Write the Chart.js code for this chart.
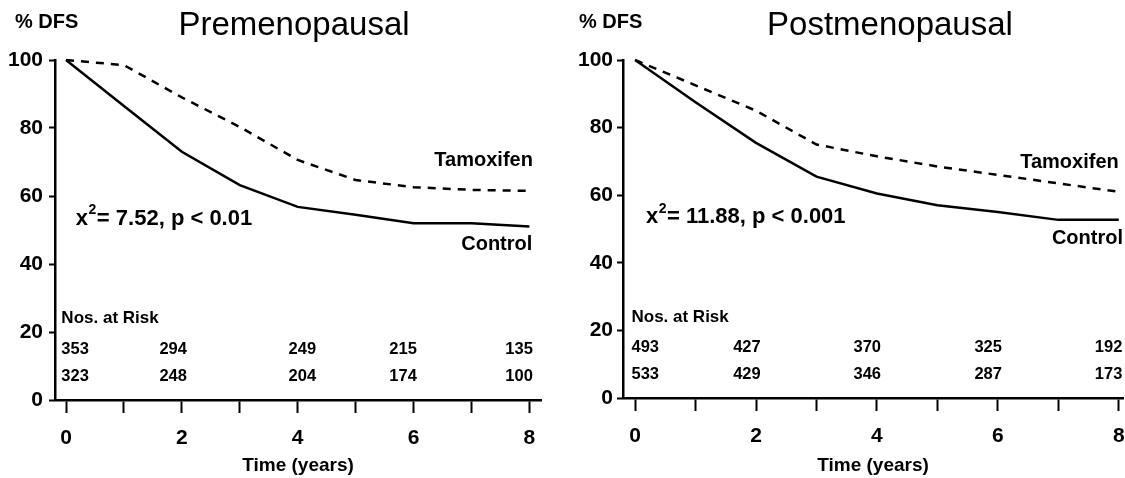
<!DOCTYPE html>
<html>
<head>
<meta charset="utf-8">
<script src="https://cdn.jsdelivr.net/npm/chart.js@4.4.1/dist/chart.umd.min.js"></script>
<style>
  html, body { margin: 0; padding: 0; background: #fff; overflow: hidden; width: 1125px; height: 478px; }
  .panel { position: absolute; top: 0; height: 478px; }
  #pre { left: 0; width: 562px; }
  #post { left: 562px; width: 582px; }
</style>
</head>
<body>
<div class="panel" id="pre"><canvas id="preChart"></canvas></div>
<div class="panel" id="post"><canvas id="postChart"></canvas></div>
<script>
// disease-free survival (%) by year of follow-up
const years = [0, 1, 2, 3, 4, 5, 6, 7, 8];
const preTamoxifen = [100, 98.5, 89, 80.3, 70.6, 64.7, 62.6, 61.8, 61.5];
const preControl = [100, 86.5, 73, 63.2, 56.8, 54.5, 52, 52, 51];
const postTamoxifen = [100, 92.5, 85, 75, 71.5, 68.5, 66, 63.5, 61];
const postControl = [100, 87.5, 75.5, 65.5, 60.5, 57, 55, 52.7, 52.7];

// numbers at risk, years 0-8
const riskYears = [0, 2, 4, 6, 8];
const preRiskTamoxifen = [353, 294, 249, 215, 135];
const preRiskControl = [323, 248, 204, 174, 100];
const postRiskTamoxifen = [493, 427, 370, 325, 192];
const postRiskControl = [533, 429, 346, 287, 173];

const xTicks = [0, 1, 2, 3, 4, 5, 6, 7, 8];
const yTicks = [0, 20, 40, 60, 80, 100];

const FAMILY = '"Liberation Sans", Arial, Helvetica, sans-serif';

// titles, curve labels, test statistic and the at-risk table
const kmText = {
  id: 'kmText',
  afterDraw(chart, args, o) {
    const { ctx } = chart;
    const x = chart.scales.x, y = chart.scales.y;
    const px = v => x.getPixelForValue(v);
    const py = v => y.getPixelForValue(v);
    ctx.save();
    ctx.fillStyle = '#000';

    ctx.textBaseline = 'alphabetic';
    ctx.textAlign = 'left';
    ctx.font = 'bold 20px ' + FAMILY;
    ctx.fillText('% DFS', o.dfsX, 28);
    ctx.textAlign = 'center';
    ctx.font = '33px ' + FAMILY;
    ctx.fillText(o.title, o.titleX, 35);

    ctx.textBaseline = 'middle';
    ctx.textAlign = 'right';
    ctx.font = 'bold 20px ' + FAMILY;
    ctx.fillText('Tamoxifen', px(o.tamLabel[0]), py(o.tamLabel[1]));
    ctx.fillText('Control', px(o.ctlLabel[0]), py(o.ctlLabel[1]));

    // chi-square with a raised 2
    ctx.textAlign = 'left';
    let cx = px(o.chiAt[0]);
    const cy = py(o.chiAt[1]);
    ctx.font = 'bold 22px ' + FAMILY;
    ctx.fillText('x', cx, cy);
    cx += ctx.measureText('x').width + 0.5;
    ctx.font = 'bold 14px ' + FAMILY;
    ctx.fillText('2', cx, cy - 8);
    cx += ctx.measureText('2').width + 0.5;
    ctx.font = 'bold 22px ' + FAMILY;
    ctx.fillText(o.chiText, cx, cy);

    ctx.font = 'bold 17px ' + FAMILY;
    ctx.fillText('Nos. at Risk', px(o.riskNudge[0]), py(24));
    ctx.font = 'bold 16.5px ' + FAMILY;
    riskYears.forEach((t, i) => {
      ctx.textAlign = i === 0 ? 'left' : (i === riskYears.length - 1 ? 'right' : 'center');
      const xx = px(t + o.riskNudge[i]);
      ctx.fillText(String(o.riskTop[i]), xx, py(15));
      ctx.fillText(String(o.riskBottom[i]), xx, py(7));
    });
    ctx.restore();
  }
};

function kmDatasets(tam, ctl) {
  const line = { borderColor: '#000', borderWidth: 2.5, pointRadius: 0, tension: 0, fill: false, clip: false };
  return [
    Object.assign({ label: 'Tamoxifen', data: years.map((t, i) => ({ x: t, y: tam[i] })), borderDash: [8, 7] }, line),
    Object.assign({ label: 'Control', data: years.map((t, i) => ({ x: t, y: ctl[i] })) }, line)
  ];
}

function makeChart(id, tam, ctl, opt) {
  const tickFont = { family: FAMILY, size: 21, weight: 'bold' };
  return new Chart(document.getElementById(id), {
    type: 'line',
    data: { datasets: kmDatasets(tam, ctl) },
    options: {
      responsive: true,
      maintainAspectRatio: false,
      animation: false,
      layout: { padding: { left: 0, right: opt.padRight, top: 60, bottom: 0 } },
      plugins: { legend: { display: false }, tooltip: { enabled: false }, kmText: opt },
      scales: {
        x: {
          type: 'linear', min: opt.xMin, max: opt.xMax,
          afterBuildTicks: s => { s.ticks = xTicks.map(v => ({ value: v })); },
          afterFit: s => { s.height = opt.xHeight; },
          grid: { drawOnChartArea: false, drawTicks: true, tickLength: 13, tickWidth: 2, tickColor: '#000' },
          border: { display: true, color: '#000', width: 2.5 },
          ticks: {
            color: '#000', font: tickFont, padding: 13, maxRotation: 0, autoSkip: false,
            callback: v => (v % 2 === 0 ? String(v) : '')
          },
          title: {
            display: true, text: 'Time (years)', color: '#000',
            font: { family: FAMILY, size: 19, weight: 'bold' }, padding: { top: 0, bottom: 1 }
          }
        },
        y: {
          min: 0, max: 100,
          afterBuildTicks: s => { s.ticks = yTicks.map(v => ({ value: v })); },
          afterFit: s => { s.width = opt.yWidth; },
          grid: { drawOnChartArea: false, drawTicks: true, tickLength: 6, tickWidth: 2, tickColor: '#000' },
          border: { display: true, color: '#000', width: 2.5 },
          ticks: { color: '#000', font: tickFont, padding: opt.yPad }
        }
      }
    },
    plugins: [kmText]
  });
}

makeChart('preChart', preTamoxifen, preControl, {
  title: 'Premenopausal', titleX: 294, dfsX: 15,
  xMin: -0.19, xMax: 8.2, xHeight: 78, yWidth: 55, yPad: 6, padRight: 21,
  tamLabel: [8.06, 70.4], ctlLabel: [8.05, 45.7],
  chiAt: [0.17, 53.4], chiText: '= 7.52, p < 0.01',
  riskTop: preRiskTamoxifen, riskBottom: preRiskControl,
  riskNudge: [-0.08, -0.15, 0.08, -0.18, 0.06]
});

makeChart('postChart', postTamoxifen, postControl, {
  title: 'Postmenopausal', titleX: 328, dfsX: 17,
  xMin: -0.2, xMax: 8.07, xHeight: 80, yWidth: 61, yPad: 4, padRight: 21,
  tamLabel: [8.0, 69.6], ctlLabel: [8.07, 47.2],
  chiAt: [0.18, 53.5], chiText: '= 11.88, p < 0.001',
  riskTop: postRiskTamoxifen, riskBottom: postRiskControl,
  riskNudge: [-0.06, -0.15, -0.16, -0.16, 0.06]
});
</script>
</body>
</html>
